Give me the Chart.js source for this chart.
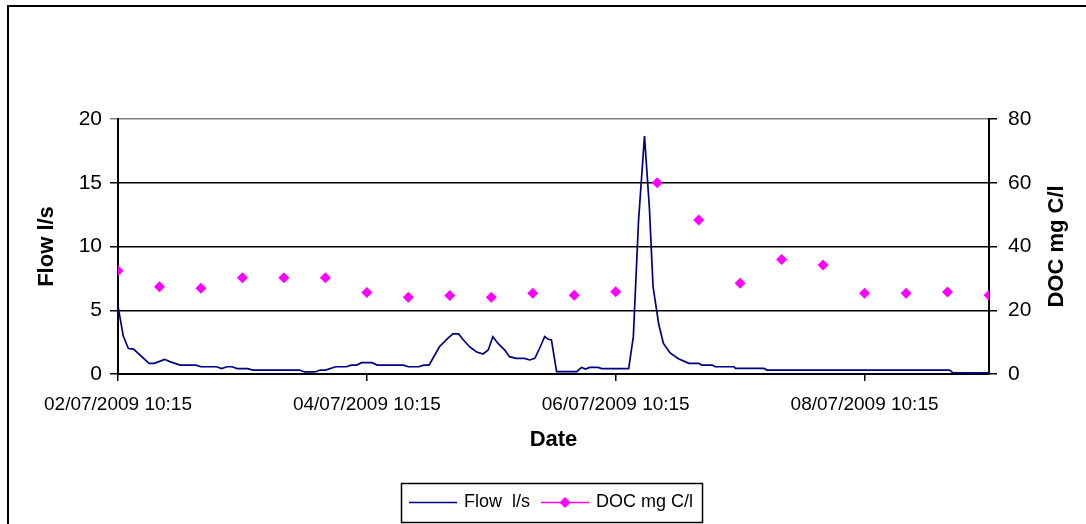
<!DOCTYPE html>
<html>
<head>
<meta charset="utf-8">
<script src="https://cdn.jsdelivr.net/npm/chart.js@4.4.0/dist/chart.umd.min.js"></script>
<style>
  html, body { margin: 0; padding: 0; background: #fff; overflow: hidden; }
  #frame { position: absolute; left: 7px; top: 5px; width: 2000px; height: 2000px;
           border-left: 2px solid #000; border-top: 2px solid #000; }
  #c { position: absolute; left: 0; top: 0; }
</style>
</head>
<body>
<div id="frame"></div>
<canvas id="c" width="1086" height="524"></canvas>
<script>
// ---- data (hours since 02/07/2009 10:15) ----
const tickLabels = ['02/07/2009 10:15', '04/07/2009 10:15', '06/07/2009 10:15', '08/07/2009 10:15'];

const flowHours = [0, 1, 2, 3, 6, 7, 9, 10, 12, 15, 16, 19, 20, 21, 22, 23, 25, 26, 35, 36, 38, 39, 40, 42, 44, 45, 46, 47, 49, 50,
  55, 56, 58, 59, 60, 62, 63.6, 64.6, 65.7, 66.5, 67.8, 69.1, 70.4, 71.4, 72.3, 73.3, 74.6, 75.5, 76.8, 78.4, 79.4, 80.4,
  81.3, 82.3, 83, 83.6, 84.6, 88.5, 89.4, 90.2, 91, 92.6, 93.3, 98.5, 99.4, 100.4, 101.55, 102.5, 103.2, 104.3, 105.2, 106.5,
  108.1, 110.1, 112, 112.6, 114.6, 115.2, 118.8, 119.1, 124.6, 125.2, 160.4, 161, 168];
const flowValues = [5.33, 3.0, 2.0, 1.95, 0.84, 0.84, 1.15, 0.97, 0.7, 0.7, 0.57, 0.57, 0.42, 0.57, 0.57, 0.42, 0.42, 0.31, 0.31, 0.16, 0.16, 0.31, 0.31, 0.57, 0.57, 0.7, 0.7, 0.89, 0.89, 0.7,
  0.7, 0.57, 0.57, 0.7, 0.7, 2.14, 2.8, 3.14, 3.14, 2.72, 2.14, 1.75, 1.57, 1.88, 2.93, 2.4, 1.88, 1.36, 1.23, 1.23, 1.1, 1.23,
  2.0, 2.93, 2.72, 2.67, 0.18, 0.18, 0.52, 0.39, 0.52, 0.52, 0.42, 0.42, 2.93, 12.0, 18.67, 13.0, 6.85, 3.9, 2.4, 1.65,
  1.2, 0.84, 0.84, 0.7, 0.7, 0.57, 0.57, 0.44, 0.44, 0.31, 0.31, 0.1, 0.1];

const docHours = [0, 8, 16, 24, 32, 40, 48, 56, 64, 72, 80, 88, 96, 104, 112, 120, 128, 136, 144, 152, 160, 168];
const docValues = [32.4, 27.4, 26.9, 30.2, 30.2, 30.2, 25.6, 24.1, 24.6, 24.1, 25.3, 24.7, 25.8, 60.0, 48.3, 28.5, 35.9, 34.2, 25.3, 25.3, 25.7, 24.7];

const rightTitle = 'DOC mg C/l';

const FONT = "'Liberation Sans', Arial, sans-serif";
Chart.defaults.font.family = FONT;
Chart.defaults.color = '#000';

const extrasPlugin = {
  id: 'xlExtras',
  afterDraw(chart) {
    const ctx = chart.ctx;
    const ds = chart.data.datasets;
    const area = chart.chartArea;
    ctx.save();
    // right axis title, reading bottom-to-top
    ctx.font = 'bold 22px ' + FONT;
    ctx.fillStyle = '#000';
    ctx.textAlign = 'center';
    ctx.textBaseline = 'middle';
    ctx.translate(1057, (area.top + area.bottom) / 2);
    ctx.rotate(-Math.PI / 2);
    ctx.fillText(rightTitle, 0, 0);
    ctx.restore();

    // legend box
    ctx.save();
    ctx.font = '18px ' + FONT;
    ctx.textBaseline = 'middle';
    ctx.textAlign = 'left';
    const lineLen = 48, gapLT = 7, gapItems = 11, padL = 8, padR = 9;
    const w0 = ctx.measureText(ds[0].label).width;
    const w1 = ctx.measureText(ds[1].label).width;
    const totalW = padL + lineLen + gapLT + w0 + gapItems + lineLen + gapLT + w1 + padR;
    const bx = Math.round(552 - totalW / 2), by = 483, bh = 39;
    const cy = by + bh / 2;
    ctx.lineWidth = 1.5;
    ctx.strokeStyle = '#000';
    ctx.strokeRect(bx + 0.5, by + 0.5, totalW, bh);
    let x = bx + padL;
    ctx.strokeStyle = ds[0].borderColor;
    ctx.lineWidth = 1.5;
    ctx.beginPath(); ctx.moveTo(x, cy); ctx.lineTo(x + lineLen, cy); ctx.stroke();
    x += lineLen + gapLT;
    ctx.fillStyle = '#000';
    ctx.fillText(ds[0].label, x, cy);
    x += w0 + gapItems;
    ctx.strokeStyle = ds[1].backgroundColor;
    ctx.beginPath(); ctx.moveTo(x, cy); ctx.lineTo(x + lineLen, cy); ctx.stroke();
    const mx = x + lineLen / 2, r = 5.5;
    ctx.fillStyle = ds[1].backgroundColor;
    ctx.beginPath(); ctx.moveTo(mx, cy - r); ctx.lineTo(mx + r, cy); ctx.lineTo(mx, cy + r); ctx.lineTo(mx - r, cy); ctx.closePath(); ctx.fill();
    x += lineLen + gapLT;
    ctx.fillStyle = '#000';
    ctx.fillText(ds[1].label, x, cy);
    ctx.restore();
  }
};

new Chart(document.getElementById('c'), {
  type: 'line',
  data: {
    datasets: [
      {
        label: 'Flow  l/s',
        data: flowHours.map((h, i) => ({ x: h, y: flowValues[i] })),
        borderColor: '#000080',
        backgroundColor: '#000080',
        borderWidth: 1.7,
        pointRadius: 0,
        tension: 0,
        yAxisID: 'y'
      },
      {
        label: 'DOC mg C/l',
        data: docHours.map((h, i) => ({ x: h, y: docValues[i] })),
        showLine: false,
        borderColor: '#FF00FF',
        backgroundColor: '#FF00FF',
        pointStyle: 'rectRot',
        pointRadius: 5.5,
        pointBorderWidth: 0,
        yAxisID: 'y1'
      }
    ]
  },
  options: {
    responsive: false,
    animation: false,
    devicePixelRatio: 1,
    layout: { padding: { top: 119, left: 0, right: 0, bottom: 0 } },
    plugins: { legend: { display: false }, tooltip: { enabled: false } },
    scales: {
      x: {
        type: 'linear',
        position: 'bottom',
        min: 0, max: 168,
        afterFit: s => { s.height = 150; },
        ticks: {
          stepSize: 48, includeBounds: false, autoSkip: false, maxRotation: 0,
          font: { size: 19 }, padding: 12,
          callback: v => tickLabels[v / 48]
        },
        grid: { drawOnChartArea: false, drawTicks: true, tickLength: 7, color: '#000', lineWidth: 1.5 },
        border: { color: '#000', width: 2 },
        title: { display: true, text: 'Date', font: { size: 22, weight: 'bold' }, padding: { top: 0, bottom: 71 } }
      },
      y: {
        position: 'left',
        min: 0, max: 20,
        afterFit: s => { s.width = 118; },
        ticks: { stepSize: 5, font: { size: 21 }, padding: 8 },
        grid: { color: c => (c.tick && c.tick.value === 20 ? '#808080' : '#000'), lineWidth: 1.5, tickLength: 8 },
        border: { color: '#000', width: 2 },
        title: { display: true, text: 'Flow l/s', font: { size: 22, weight: 'bold' }, padding: { top: 34, bottom: 0 } }
      },
      y1: {
        position: 'right',
        min: 0, max: 80,
        afterFit: s => { s.width = 97; },
        ticks: { stepSize: 20, font: { size: 21 }, padding: 11 },
        grid: { drawOnChartArea: false, color: '#000', lineWidth: 1.5, tickLength: 8 },
        border: { color: '#000', width: 2 },
        title: { display: false }
      }
    }
  },
  plugins: [extrasPlugin]
});
</script>
</body>
</html>
